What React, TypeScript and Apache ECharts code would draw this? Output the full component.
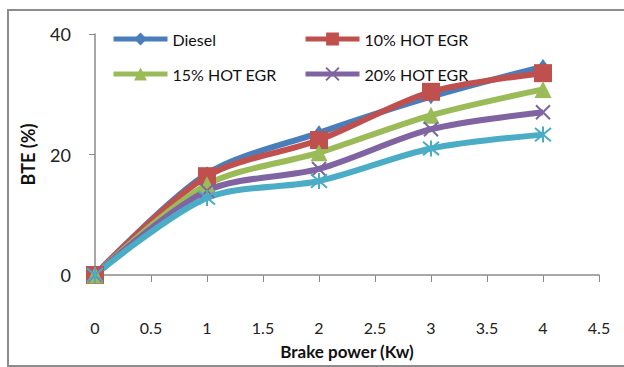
import React, { useEffect, useRef } from "react";
import * as echarts from "echarts";

// Brake power (kW) on the x axis, brake thermal efficiency (%) on the y axis
const brakePower = [0, 1, 2, 3, 4];
const diesel = [0, 16.8, 23.6, 29.6, 34.6];
const hotEgr10 = [0, 16.4, 22.4, 30.4, 33.5];
const hotEgr15 = [0, 15.0, 20.3, 26.5, 30.8];
const hotEgr20 = [0, 14.0, 17.6, 24.2, 27.0];
const hotEgr25 = [0, 12.8, 15.6, 21.0, 23.3];

const FONT = "Lato, 'Noto Sans', sans-serif";

const CROSS = "path://M0,0 L10,10 M10,0 L0,10";
const ASTERISK = "path://M0,0 L10,10 M10,0 L0,10 M5,-1 L5,11";

const pairs = (ys: number[]) => brakePower.map((x, i) => [x, ys[i]]);

export default function App() {
  const ref = useRef<HTMLDivElement>(null);

  useEffect(() => {
    document.body.style.margin = "0";
    const chart = echarts.init(ref.current!, null, { renderer: "svg" });

    const mk = (
      name: string,
      ys: number[],
      color: string,
      symbol: string,
      size: number | number[],
      stroke = false
    ) => ({
      name,
      type: "line",
      smooth: 0.3,
      data: pairs(ys),
      symbol,
      symbolSize: size,
      lineStyle: { color, width: 6 },
      itemStyle: stroke
        ? { color, borderColor: color, borderWidth: 2 }
        : { color },
      emphasis: { disabled: true },
    });

    const legendCommon = {
      orient: "vertical",
      top: 26,
      itemWidth: 54,
      itemHeight: 16,
      itemGap: 19,
      lineStyle: { width: 5 },
      textStyle: { fontFamily: FONT, fontSize: 16, color: "#111" },
    };

    chart.setOption({
      animation: false,
      backgroundColor: "#fff",
      graphic: [
        {
          type: "rect",
          shape: { x: 8, y: 10, width: 640, height: 356 },
          style: { fill: "none", stroke: "#8c8c8c", lineWidth: 2 },
          silent: true,
          z: -1,
        },
      ],
      legend: [
        { ...legendCommon, data: ["Diesel", "15% HOT EGR"], left: 106 },
        { ...legendCommon, data: ["10% HOT EGR", "20% HOT EGR"], left: 298 },
      ],
      grid: {
        left: 95,
        right: 25,
        top: 34,
        bottom: 92,
        containLabel: false,
        outerBoundsMode: "none",
      },
      xAxis: {
        type: "value",
        min: 0,
        max: 4.5,
        interval: 0.5,
        name: "Brake power (Kw)",
        nameLocation: "middle",
        nameGap: 68,
        nameTextStyle: {
          fontFamily: FONT,
          fontSize: 17,
          fontWeight: "bold",
          color: "#111",
        },
        axisLine: { lineStyle: { color: "#8a8a8a", width: 1.5 } },
        axisTick: { show: true, length: 7, lineStyle: { color: "#8a8a8a" } },
        axisLabel: {
          margin: 44,
          fontFamily: FONT,
          fontSize: 16,
          color: "#222",
        },
        splitLine: { show: false },
      },
      yAxis: {
        type: "value",
        min: 0,
        max: 40,
        interval: 20,
        name: "BTE (%)",
        nameLocation: "middle",
        nameGap: 58,
        nameRotate: 90,
        nameTextStyle: {
          fontFamily: FONT,
          fontSize: 18,
          fontWeight: "bold",
          color: "#111",
        },
        axisLine: { show: true, lineStyle: { color: "#8a8a8a", width: 1.5 } },
        axisTick: { show: true, length: 6, lineStyle: { color: "#8a8a8a" } },
        axisLabel: {
          margin: 24,
          fontFamily: FONT,
          fontSize: 18,
          color: "#222",
        },
        splitLine: { show: false },
      },
      series: [
        mk("Diesel", diesel, "#4a7ebb", "diamond", [11, 15]),
        mk("10% HOT EGR", hotEgr10, "#c0504d", "rect", 18),
        mk("15% HOT EGR", hotEgr15, "#9bbb59", "triangle", 17),
        mk("20% HOT EGR", hotEgr20, "#8064a2", CROSS, 14, true),
        mk("25% HOT EGR", hotEgr25, "#4bacc6", ASTERISK, 16, true),
      ],
    });

    return () => chart.dispose();
  }, []);

  return <div ref={ref} style={{ width: 624, height: 367 }} />;
}
